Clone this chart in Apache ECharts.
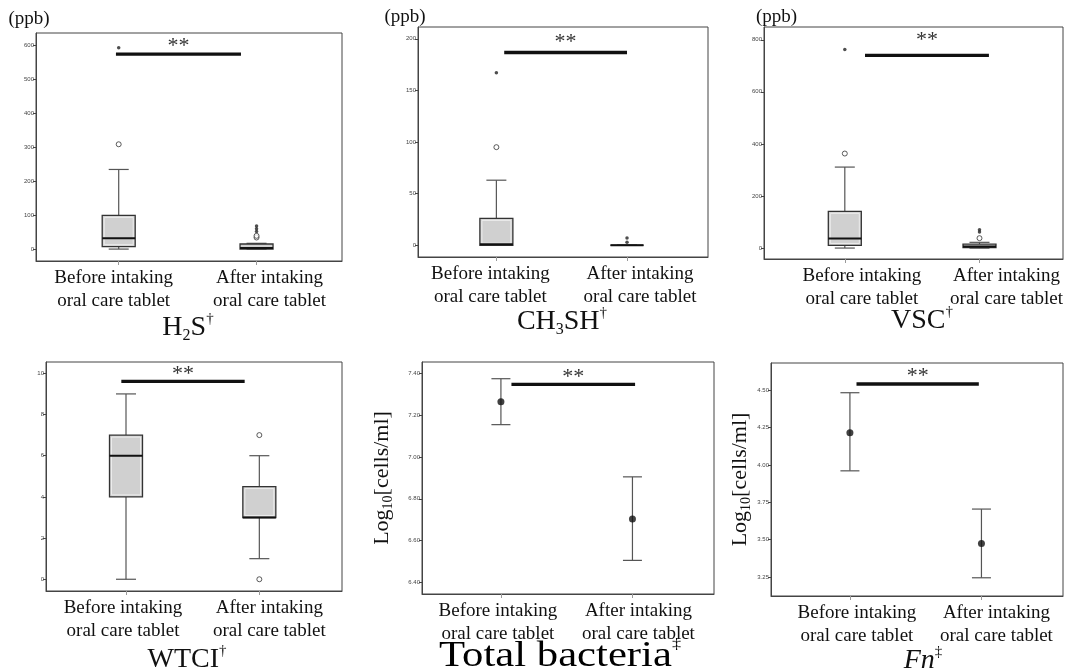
<!DOCTYPE html>
<html>
<head>
<meta charset="utf-8">
<script src="https://cdn.jsdelivr.net/npm/echarts@6/dist/echarts.min.js"></script>
<style>
html, body { margin: 0; padding: 0; background: #fff; }
#main { width: 1070px; height: 670px; }
</style>
</head>
<body>
<div id="main"></div>
<script>
// x categories (value 1 and 2 on each x axis)
const categories = ['Before intaking\noral care tablet', 'After intaking\noral care tablet'];

// boxplots: [min, Q1, median, Q3, max] for before / after
const h2sBox = [[0, 7, 32, 99, 234], [0, 0, 3, 15, 17]];
const h2sOutliers = [[1, 308], [2, 34], [2, 39]];
const h2sExtremes = [[1, 592], [2, 52], [2, 60], [2, 68]];

const ch3shBox = [[0, 0, 1, 26, 63], [0, 0, 0, 0, 0]];
const ch3shOutliers = [[1, 95]];
const ch3shExtremes = [[1, 167], [2, 3], [2, 7]];

const vscBox = [[0, 10, 37, 141, 311], [0, 2, 6, 15, 22]];
const vscOutliers = [[1, 363], [2, 38]];
const vscExtremes = [[1, 763], [2, 62], [2, 70]];

const wtciBox = [[0, 4, 6, 7, 9], [1, 3, 3, 4.5, 6]];
const wtciOutliers = [[2, 7], [2, 0]];
const wtciExtremes = [];

// mean with 95% CI: before / after
const bacteriaMean = [7.265, 6.703];
const bacteriaLow = [7.155, 6.505];
const bacteriaHigh = [7.375, 6.905];

const fnMean = [4.216, 3.475];
const fnLow = [3.961, 3.245];
const fnHigh = [4.484, 3.705];

// significance bars: [x from, x to, bar value, stars value]
const h2sSig = [0.98, 1.887, 573, 605];
const ch3shSig = [1.06, 2.0, 186.7, 199.7];
const vscSig = [1.15, 2.07, 740, 808];
const wtciSig = [0.965, 1.89, 9.61, 10.08];
const bacteriaSig = [1.08, 2.02, 7.348, 7.397];
const fnSig = [1.05, 1.98, 4.542, 4.614];

// y tick labels
const h2sTicks = [0, 100, 200, 300, 400, 500, 600];
const ch3shTicks = [0, 50, 100, 150, 200];
const vscTicks = [0, 200, 400, 600, 800];
const wtciTicks = [0, 2, 4, 6, 8, 10];
const bacteriaTicks = [6.4, 6.6, 6.8, 7.0, 7.2, 7.4];
const fnTicks = [3.25, 3.5, 3.75, 4.0, 4.25, 4.5];

const serif = '"Liberation Serif", "Times New Roman", serif';
const X_MIN = 0.4, X_MAX = 2.62;

const logName = '{m|Log}{sub|10}{m|[cells/ml]}';

var panels = [
    { grid: [36, 33, 306, 228], y: [-35, 635], ticks: h2sTicks, digits: 0,
      box: h2sBox, outliers: h2sOutliers, extremes: h2sExtremes, sig: h2sSig,
      title: '{m|H}{sub|2}{m|S}{sup|†}', titleAt: [188, 312],
      name: '(ppb)', nameLoc: 'end', nameGap: 4, namePad: [0, 14, 0, 0], labelShift: [-5, 13] },
    { grid: [418, 27, 290, 230], y: [-11.4, 211.4], ticks: ch3shTicks, digits: 0,
      box: ch3shBox, outliers: ch3shOutliers, extremes: ch3shExtremes, sig: ch3shSig,
      title: '{m|CH}{sub|3}{m|SH}{sup|†}', titleAt: [562, 306],
      name: '(ppb)', nameLoc: 'end', nameGap: 0, namePad: [0, 26, 0, 0], labelShift: [-6, 13] },
    { grid: [764, 27, 299, 232], y: [-42, 849], ticks: vscTicks, digits: 0,
      box: vscBox, outliers: vscOutliers, extremes: vscExtremes, sig: vscSig,
      title: '{m|VSC}{sup|†}', titleAt: [922, 305],
      name: '(ppb)', nameLoc: 'end', nameGap: 0, namePad: [0, 0, 0, 25], labelShift: [17, 27] },
    { grid: [46, 362, 296, 229], y: [-0.57, 10.55], ticks: wtciTicks, digits: 0,
      box: wtciBox, outliers: wtciOutliers, extremes: wtciExtremes, sig: wtciSig,
      title: '{m|WTCI}{sup|†}', titleAt: [187, 644], labelShift: [-3, 10] },
    { grid: [422, 362, 292, 232], y: [6.344, 7.455], ticks: bacteriaTicks, digits: 2,
      mean: bacteriaMean, low: bacteriaLow, high: bacteriaHigh, sig: bacteriaSig,
      // this title is set larger and wider in the figure
      title: '{m|Total bacteria}{sup|‡}', titleAt: [560, 637], titleSize: 35, titleScale: 1.22,
      name: logName, nameLoc: 'middle', nameGap: 27, labelShift: [-3, 6] },
    { grid: [771, 363, 292, 233], y: [3.123, 4.683], ticks: fnTicks, digits: 2,
      mean: fnMean, low: fnLow, high: fnHigh, sig: fnSig,
      title: '{it|Fn}{sup|‡}', titleAt: [923, 645],
      name: logName, nameLoc: 'middle', nameGap: 15, labelShift: [7, 15] }
];

function renderBox(params, api) {
    var x = api.value(0);
    var lo = api.coord([x, api.value(1)]);
    var q1 = api.coord([x, api.value(2)]);
    var md = api.coord([x, api.value(3)]);
    var q3 = api.coord([x, api.value(4)]);
    var hi = api.coord([x, api.value(5)]);
    var cx = lo[0], hw = 16.5, cw = 10;
    var wh = { stroke: '#555', lineWidth: 1.2 };
    return {
        type: 'group',
        children: [
            { type: 'line', shape: { x1: cx, y1: lo[1], x2: cx, y2: q1[1] }, style: wh },
            { type: 'line', shape: { x1: cx, y1: q3[1], x2: cx, y2: hi[1] }, style: wh },
            { type: 'line', shape: { x1: cx - cw, y1: lo[1], x2: cx + cw, y2: lo[1] }, style: wh },
            { type: 'line', shape: { x1: cx - cw, y1: hi[1], x2: cx + cw, y2: hi[1] }, style: wh },
            { type: 'rect', shape: { x: cx - hw, y: q3[1], width: hw * 2, height: q1[1] - q3[1] },
              style: { fill: '#d0d0d0', stroke: '#333', lineWidth: 1.3 } },
            { type: 'rect', shape: { x: cx - hw + 2, y: q3[1] + 2, width: hw * 2 - 4, height: Math.max(0, q1[1] - q3[1] - 4) },
              style: { fill: 'none', stroke: q1[1] - q3[1] > 6 ? '#ececec' : 'none', lineWidth: 1 } },
            { type: 'line', shape: { x1: cx - hw, y1: md[1], x2: cx + hw, y2: md[1] }, style: { stroke: '#111', lineWidth: 2 } }
        ]
    };
}

function renderErr(params, api) {
    var x = api.value(0);
    var lo = api.coord([x, api.value(1)]);
    var hi = api.coord([x, api.value(2)]);
    var cx = lo[0], cw = 9.5;
    var st = { stroke: '#555', lineWidth: 1.2 };
    return {
        type: 'group',
        children: [
            { type: 'line', shape: { x1: cx, y1: lo[1], x2: cx, y2: hi[1] }, style: st },
            { type: 'line', shape: { x1: cx - cw, y1: lo[1], x2: cx + cw, y2: lo[1] }, style: st },
            { type: 'line', shape: { x1: cx - cw, y1: hi[1], x2: cx + cw, y2: hi[1] }, style: st }
        ]
    };
}

function renderSig(params, api) {
    var a = api.coord([api.value(0), api.value(2)]);
    var b = api.coord([api.value(1), api.value(2)]);
    var s = api.coord([(api.value(0) + api.value(1)) / 2, api.value(3)]);
    return {
        type: 'group',
        children: [
            { type: 'line', shape: { x1: a[0], y1: a[1], x2: b[0], y2: b[1] }, style: { stroke: '#111', lineWidth: 3.4 } },
            { type: 'text', x: s[0], y: s[1] + 3,
              style: { text: '**', fill: '#333', font: '22px ' + serif, align: 'center', verticalAlign: 'middle' } }
        ]
    };
}

function titleRich(size) {
    var lh = size + 4;
    return {
        m: { fontFamily: serif, fontSize: size, fontWeight: 'normal', color: '#111', lineHeight: lh },
        it: { fontFamily: serif, fontSize: size, fontWeight: 'normal', fontStyle: 'italic', color: '#111', lineHeight: lh },
        sub: { fontFamily: serif, fontSize: 16, fontWeight: 'normal', color: '#111', lineHeight: 16, verticalAlign: 'bottom' },
        sup: { fontFamily: serif, fontSize: 15, fontWeight: 'normal', color: '#111', lineHeight: 16, verticalAlign: 'top' }
    };
}

var grids = [], xAxes = [], yAxes = [], series = [], titles = [], graphics = [];

panels.forEach(function (p, i) {
    grids.push({ left: p.grid[0], top: p.grid[1], width: p.grid[2], height: p.grid[3],
        show: true, borderColor: '#444', borderWidth: 1, backgroundColor: '#fff' });

    // label positions shifted a little from the ticks, as in the figure
    var k = (X_MAX - X_MIN) / p.grid[2];
    var labelAt = [1 + p.labelShift[0] * k, 2 + p.labelShift[1] * k];
    xAxes.push({
        gridIndex: i, type: 'value', min: X_MIN, max: X_MAX,
        axisLine: { show: true, onZero: false, lineStyle: { color: '#444' } },
        splitLine: { show: false },
        axisTick: { show: true, customValues: [1, 2], length: 4, lineStyle: { color: '#999' } },
        axisLabel: {
            customValues: labelAt, margin: 6,
            formatter: function (v) { return v < 1.5 ? categories[0] : categories[1]; },
            fontFamily: serif, fontSize: 19, lineHeight: 23, color: '#111'
        }
    });

    var y = {
        gridIndex: i, type: 'value', min: p.y[0], max: p.y[1],
        axisLine: { show: true, onZero: false, lineStyle: { color: '#444' } },
        splitLine: { show: false },
        axisTick: { show: true, customValues: p.ticks, length: 3, lineStyle: { color: '#444' } },
        axisLabel: {
            customValues: p.ticks, margin: 2, fontSize: 6, color: '#444',
            fontFamily: '"Liberation Sans", Arial, sans-serif',
            formatter: (function (d) { return function (v) { return v.toFixed(d); }; })(p.digits)
        }
    };
    if (p.name) {
        y.name = p.name;
        y.nameLocation = p.nameLoc;
        y.nameGap = p.nameGap;
        y.nameTextStyle = {
            fontFamily: serif, fontSize: p.nameLoc === 'end' ? 19 : 22, color: '#111',
            padding: p.namePad || 0,
            rich: {
                m: { fontFamily: serif, fontSize: 22, color: '#111', lineHeight: 26 },
                sub: { fontFamily: serif, fontSize: 14, color: '#111', lineHeight: 16, verticalAlign: 'bottom' }
            }
        };
    }
    yAxes.push(y);

    if (p.box) {
        series.push({
            type: 'custom', xAxisIndex: i, yAxisIndex: i, renderItem: renderBox, silent: true,
            data: p.box.map(function (b, j) { return [j + 1].concat(b); })
        });
        series.push({
            type: 'scatter', xAxisIndex: i, yAxisIndex: i, symbol: 'circle', symbolSize: 5, silent: true,
            itemStyle: { color: '#fff', borderColor: '#333', borderWidth: 1 },
            data: p.outliers
        });
        series.push({
            type: 'scatter', xAxisIndex: i, yAxisIndex: i, symbol: 'circle', symbolSize: 3.5, silent: true,
            itemStyle: { color: '#222' },
            data: p.extremes
        });
    } else {
        series.push({
            type: 'custom', xAxisIndex: i, yAxisIndex: i, renderItem: renderErr, silent: true,
            data: p.mean.map(function (m, j) { return [j + 1, p.low[j], p.high[j]]; })
        });
        series.push({
            type: 'scatter', xAxisIndex: i, yAxisIndex: i, symbol: 'circle', symbolSize: 7, silent: true,
            itemStyle: { color: '#111' },
            data: p.mean.map(function (m, j) { return [j + 1, m]; })
        });
    }
    series.push({
        type: 'custom', xAxisIndex: i, yAxisIndex: i, renderItem: renderSig, silent: true,
        data: [p.sig]
    });

    if (p.titleScale) {
        // wide-set title: drawn as a slightly stretched text element
        graphics.push({
            type: 'text', x: p.titleAt[0], y: p.titleAt[1], scaleX: p.titleScale, silent: true,
            style: { text: p.title, align: 'center', verticalAlign: 'top', rich: titleRich(p.titleSize) }
        });
    } else {
        titles.push({
            text: p.title, left: p.titleAt[0], top: p.titleAt[1], textAlign: 'center', padding: 0,
            textStyle: { fontWeight: 'normal', rich: titleRich(28) }
        });
    }
});

var chartDom = document.getElementById('main');
var myChart = echarts.init(chartDom);
var option = {
    backgroundColor: '#fff',
    animation: false,
    title: titles,
    grid: grids,
    xAxis: xAxes,
    yAxis: yAxes,
    graphic: graphics,
    series: series
};
option && myChart.setOption(option);
</script>
</body>
</html>
